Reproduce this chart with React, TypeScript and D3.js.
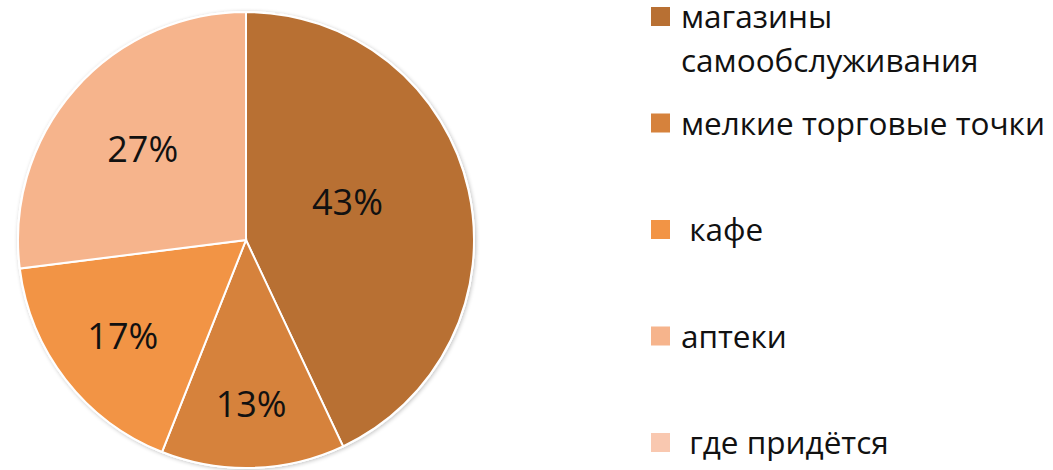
import React from "react";
import * as d3 from "d3";

const categories = [
  "магазины самообслуживания",
  "мелкие торговые точки",
  "кафе",
  "аптеки",
  "где придётся",
];
const legendLines = [
  ["магазины", "самообслуживания"],
  ["мелкие торговые точки"],
  [" кафе"],
  ["аптеки"],
  [" где придётся"],
];
const values = [43, 13, 17, 27, 0];
const labels = ["43%", "13%", "17%", "27%", ""];
const colors = ["#b87033", "#d6823c", "#f29445", "#f6b48c", "#f9c8b0"];

const W = 1053;
const H = 470;
const cx = 246;
const cy = 240;
const R = 228;

export default function App() {
  const pie = d3.pie<number>().sort(null).value((d) => d)(values);
  const arc = d3.arc<d3.PieArcDatum<number>>().innerRadius(0).outerRadius(R);
  const labelPos = (d: d3.PieArcDatum<number>) => {
    const frac = (d.endAngle - d.startAngle) / (2 * Math.PI);
    const r = R * (0.82 - 0.8 * frac);
    // large slices: Excel best-fit nudges label toward the slice start
    const a = (d.startAngle + d.endAngle) / 2 - Math.max(0, frac - 0.3) * 1.1;
    return [Math.sin(a) * r, -Math.cos(a) * r];
  };
  const legendTop = 7;
  const legendStep = 106.5;
  return (
    <svg
      width={W}
      height={H}
      style={{ position: "absolute", left: 0, top: 0, background: "#fff" }}
      fontFamily="'Open Sans', sans-serif"
    >
      <defs>
        <filter id="sh" x="-10%" y="-10%" width="120%" height="120%">
          <feGaussianBlur in="SourceAlpha" stdDeviation="2" />
          <feOffset dx="1" dy="1" result="b" />
          <feComponentTransfer>
            <feFuncA type="linear" slope="0.25" />
          </feComponentTransfer>
          <feMerge>
            <feMergeNode />
            <feMergeNode in="SourceGraphic" />
          </feMerge>
        </filter>
      </defs>
      <g transform={`translate(${cx},${cy})`}>
        <circle r={R + 1} fill="#fff" filter="url(#sh)" />
        {pie.map((d, i) => (
          <path key={i} d={arc(d) || ""} fill={colors[i]} stroke="#fff" strokeWidth={2} />
        ))}
        {pie.map((d, i) => {
          if (!labels[i]) return null;
          const [x, y] = labelPos(d);
          return (
            <text
              key={"l" + i}
              x={x}
              y={y}
              textAnchor="middle"
              dominantBaseline="central"
              fontSize={36}
              fill="#111"
            >
              {labels[i]}
            </text>
          );
        })}
      </g>
      <g>
        {categories.map((c, i) => {
          const top = legendTop + i * legendStep;
          return (
            <g key={c}>
              <rect x={651} y={top} width={19} height={19} fill={colors[i]} />
              {legendLines[i].map((line, j) => (
                <text
                  key={j}
                  x={681}
                  y={top + 21 + j * 44}
                  fontSize={31.5}
                  fill="#111"
                  style={{ whiteSpace: "pre" }}
                >
                  {line}
                </text>
              ))}
            </g>
          );
        })}
      </g>
    </svg>
  );
}
